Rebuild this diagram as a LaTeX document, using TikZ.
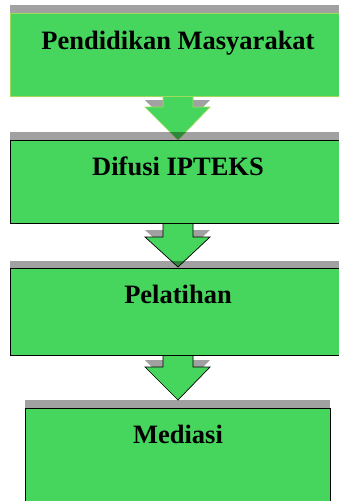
\documentclass[tikz,border=0pt]{standalone}
\usepackage{fontspec}
\setmainfont{Liberation Serif}
\definecolor{boxgreen}{RGB}{71,214,93}
\definecolor{litegreen}{RGB}{160,220,90}
\tikzset{
  boxshape/.style={fill=boxgreen, draw=none, inner sep=0pt, anchor=north west},
  boxedge/.style={draw=black, line width=0.7pt},
  boxbar/.style={fill=black, fill opacity=0.37, draw=none},
  lbl/.style={font=\fontsize{26.5}{30}\selectfont\bfseries, anchor=base, inner sep=0pt},
  arrowbody/.style={fill=boxgreen, draw=black, line width=0.7pt, line join=miter},
  arrowshadow/.style={fill=black!37, draw=none}
}
% #1 top y, #2 head y, #3 tip y, #4 style
\newcommand{\blockarr}[4]{%
  \path[#4] (163,-#1) -- (163,-#2) -- (145,-#2) -- (178,-#3) -- (210,-#2) -- (193,-#2) -- (193,-#1) -- cycle;}
\begin{document}
\begin{tikzpicture}[x=1pt,y=1pt]
\fill[white] (0,0) rectangle (338,-501);
\useasboundingbox (0,0) rectangle (338,-501);
% arrow shadows
\begin{scope}[yshift=7pt]
\blockarr{96}{107}{140}{arrowshadow}
\blockarr{223}{237}{267}{arrowshadow}
\blockarr{355}{367}{400}{arrowshadow}
\end{scope}
% arrows
\blockarr{96}{107}{140}{arrowbody, draw=litegreen}
\blockarr{223}{237}{267}{arrowbody}
\blockarr{355}{367}{400}{arrowbody}
% box shadows
\fill[boxbar] (10,-5) rectangle (340,-96);
\fill[boxbar] (10,-132) rectangle (340,-223);
\fill[boxbar] (10,-261) rectangle (340,-355);
\fill[boxbar] (25,-400) rectangle (330,-503);
% boxes
\node[boxshape, minimum width=330pt, minimum height=83pt] (b1) at (10,-13) {};
\node[boxshape, minimum width=330pt, minimum height=83pt] (b2) at (10,-140) {};
\node[boxshape, minimum width=330pt, minimum height=87pt] (b3) at (10,-268) {};
\node[boxshape, minimum width=305pt, minimum height=95pt] (b4) at (25,-408) {};
\draw[boxedge, draw=litegreen] (b1.north east) -- (b1.north west) -- (b1.south west) -- (b1.south east);
\draw[boxedge] (b2.north east) -- (b2.north west) -- (b2.south west) -- (b2.south east);
\draw[boxedge] (b3.north east) -- (b3.north west) -- (b3.south west) -- (b3.south east);
\draw[boxedge] (b4.south east) -- (b4.north east) -- (b4.north west) -- (b4.south west);
% labels
\node[lbl] (t1) at (178,-49) {Pendidikan Masyarakat};
\node[lbl] (t2) at (178,-175) {Difusi IPTEKS};
\node[lbl] (t3) at (178,-303) {Pelatihan};
\node[lbl] (t4) at (178,-443) {Mediasi};
\end{tikzpicture}
\end{document}
